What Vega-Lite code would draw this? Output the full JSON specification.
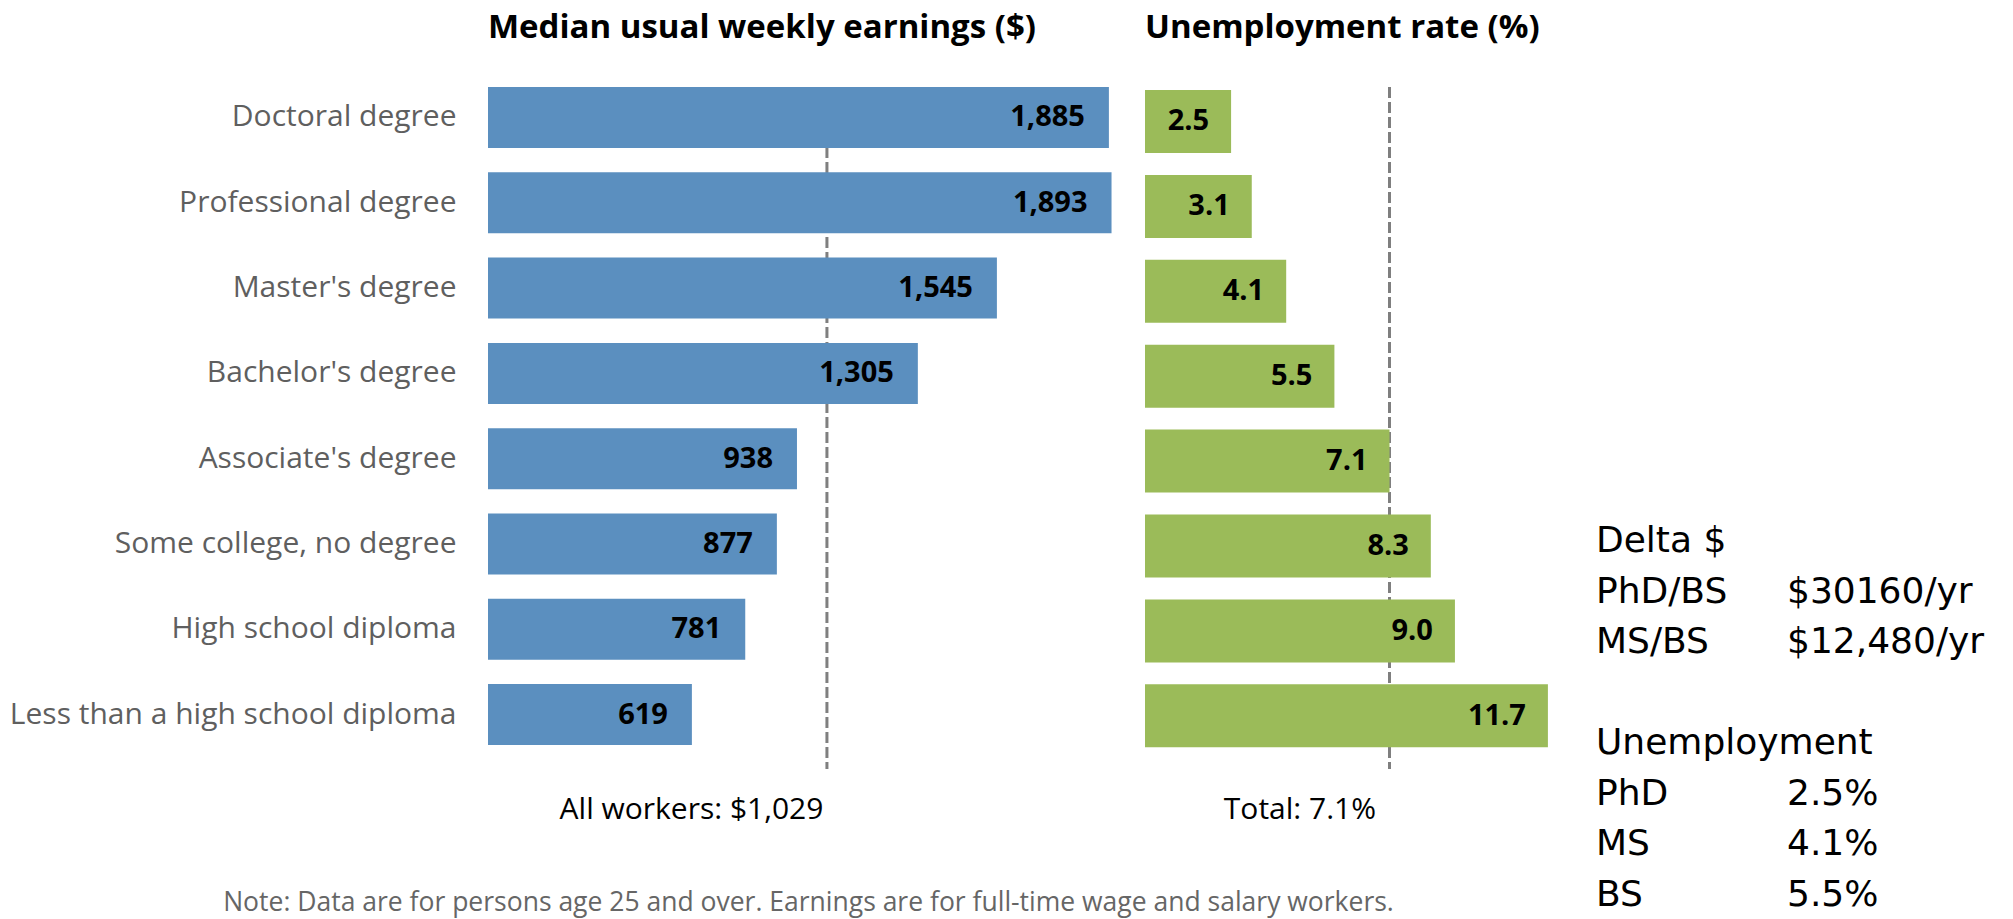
{
  "$schema": "https://vega.github.io/schema/vega-lite/v6.json",
  "background": "white",
  "padding": {"left": 9, "top": 11, "right": 5, "bottom": 2},
  "bounds": "flush",
  "spacing": 17,
  "config": {"view": {"stroke": null}, "font": "Open Sans"},
  "datasets": {
    "edu": [
      {"category": "Doctoral degree", "earnings": 1885, "unemployment": 2.5},
      {"category": "Professional degree", "earnings": 1893, "unemployment": 3.1},
      {"category": "Master's degree", "earnings": 1545, "unemployment": 4.1},
      {"category": "Bachelor's degree", "earnings": 1305, "unemployment": 5.5},
      {"category": "Associate's degree", "earnings": 938, "unemployment": 7.1},
      {"category": "Some college, no degree", "earnings": 877, "unemployment": 8.3},
      {"category": "High school diploma", "earnings": 781, "unemployment": 9.0},
      {"category": "Less than a high school diploma", "earnings": 619, "unemployment": 11.7}
    ],
    "totals": [{"earnings": 1029, "unemployment": 7.1}],
    "notes": [
      {"row": 0, "column": "label", "text": "Delta $"},
      {"row": 1, "column": "label", "text": "PhD/BS"},
      {"row": 1, "column": "value", "text": "$30160/yr"},
      {"row": 2, "column": "label", "text": "MS/BS"},
      {"row": 2, "column": "value", "text": "$12,480/yr"},
      {"row": 4, "column": "label", "text": "Unemployment"},
      {"row": 5, "column": "label", "text": "PhD"},
      {"row": 5, "column": "value", "text": "2.5%"},
      {"row": 6, "column": "label", "text": "MS"},
      {"row": 6, "column": "value", "text": "4.1%"},
      {"row": 7, "column": "label", "text": "BS"},
      {"row": 7, "column": "value", "text": "5.5%"}
    ]
  },
  "hconcat": [
    {
      "width": 640,
      "height": 682,
      "title": {"text": "Median usual weekly earnings ($)", "anchor": "start", "frame": "group", "baseline": "top", "font": "Open Sans", "fontSize": 33, "fontWeight": "bold", "color": "#000000", "offset": 41},
      "encoding": {
        "x": {
          "field": "earnings", "type": "quantitative",
          "scale": {"domain": [0, 1943], "nice": false, "zero": true},
          "axis": {
            "values": [1029],
            "labelExpr": "'All workers: $' + format(datum.value, ',')",
            "labelAlign": "right", "labelFlush": false, "labelOffset": -4, "labelLimit": 1000,
            "labelFont": "Open Sans", "labelFontSize": 30, "labelColor": "#000000", "labelPadding": 25,
            "ticks": false, "tickSize": 0, "domain": false, "grid": false,
            "title": "Note: Data are for persons age 25 and over. Earnings are for full-time wage and salary workers.",
            "titleFont": "Open Sans", "titleFontSize": 26.5, "titleFontWeight": "normal", "titleColor": "#666666", "titlePadding": 65
          }
        }
      },
      "layer": [
        {"data": {"name": "totals"}, "mark": {"type": "rule", "color": "#7f7f7f", "strokeWidth": 3, "strokeDash": [11, 4]}, "encoding": {}},
        {
          "data": {"name": "edu"},
          "mark": {"type": "bar", "color": "#5B8FBF"},
          "encoding": {
            "y": {"field": "category", "type": "nominal", "sort": null,
              "scale": {"paddingInner": 0.2849, "paddingOuter": 0.1401, "align": 0},
              "axis": {"title": null, "domain": false, "ticks": false, "tickSize": 0, "labelPadding": 32, "labelFont": "Open Sans", "labelFontSize": 30, "labelColor": "#5f5f5f", "labelLimit": 1000}}
          }
        },
        {
          "data": {"name": "edu"},
          "mark": {"type": "text", "align": "right", "baseline": "middle", "dx": -24, "font": "Open Sans", "fontSize": 29, "fontWeight": "bold", "color": "#000000"},
          "encoding": {
            "y": {"field": "category", "type": "nominal", "sort": null,
              "scale": {"paddingInner": 0.2849, "paddingOuter": 0.1401, "align": 0},
              "axis": {"title": null, "domain": false, "ticks": false, "tickSize": 0, "labelPadding": 32, "labelFont": "Open Sans", "labelFontSize": 30, "labelColor": "#5f5f5f", "labelLimit": 1000}},
            "text": {"field": "earnings", "type": "quantitative", "format": ","}
          }
        }
      ]
    },
    {
      "width": 416,
      "height": 682,
      "title": {"text": "Unemployment rate (%)", "anchor": "start", "frame": "group", "baseline": "top", "font": "Open Sans", "fontSize": 33, "fontWeight": "bold", "color": "#000000", "offset": 41},
      "encoding": {
        "x": {
          "field": "unemployment", "type": "quantitative",
          "scale": {"domain": [0, 12.08], "nice": false, "zero": true},
          "axis": {
            "values": [7.1],
            "labelExpr": "'Total: ' + format(datum.value, '.1f') + '%'",
            "labelAlign": "right", "labelFlush": false, "labelOffset": -14, "labelLimit": 1000,
            "labelFont": "Open Sans", "labelFontSize": 30, "labelColor": "#000000", "labelPadding": 25,
            "ticks": false, "tickSize": 0, "domain": false, "grid": false, "title": null
          }
        }
      },
      "layer": [
        {"data": {"name": "totals"}, "mark": {"type": "rule", "color": "#7f7f7f", "strokeWidth": 3, "strokeDash": [11, 4]}, "encoding": {}},
        {
          "data": {"name": "edu"},
          "mark": {"type": "bar", "color": "#9BBB59"},
          "encoding": {
            "y": {"field": "category", "type": "nominal", "sort": null,
              "scale": {"paddingInner": 0.258, "paddingOuter": 0.1455, "align": 0.121}, "axis": null}
          }
        },
        {
          "data": {"name": "edu"},
          "mark": {"type": "text", "align": "right", "baseline": "middle", "dx": -22, "font": "Open Sans", "fontSize": 29, "fontWeight": "bold", "color": "#000000"},
          "encoding": {
            "y": {"field": "category", "type": "nominal", "sort": null,
              "scale": {"paddingInner": 0.258, "paddingOuter": 0.1455, "align": 0.121}, "axis": null},
            "text": {"field": "unemployment", "type": "quantitative", "format": ".1f"}
          }
        }
      ]
    },
    {
      "width": 227,
      "height": 682,
      "data": {"name": "notes"},
      "mark": {"type": "text", "align": "left", "baseline": "alphabetic", "font": "DejaVu Sans", "fontSize": 36, "color": "#000000"},
      "encoding": {
        "x": {"field": "column", "type": "nominal", "scale": {"type": "point", "padding": 0.0942, "domain": ["label", "value"]}, "axis": null},
        "y": {"field": "row", "type": "quantitative", "scale": {"domain": [-9.208, 4.297], "reverse": true, "nice": false, "zero": false}, "axis": null},
        "text": {"field": "text", "type": "nominal"}
      }
    }
  ]
}
